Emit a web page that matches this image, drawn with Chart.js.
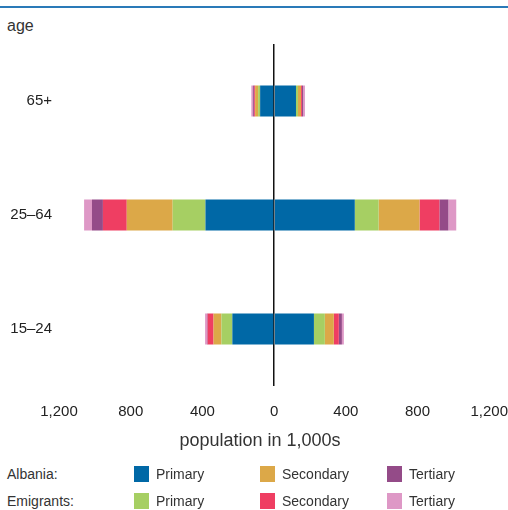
<!DOCTYPE html>
<html>
<head>
<meta charset="utf-8">
<script src="https://cdn.jsdelivr.net/npm/chart.js@4"></script>
<style>
  body { margin: 0; background: #fff; font-family: "Liberation Sans", Arial, sans-serif; color: #333; }
  #wrap { position: relative; width: 508px; height: 510px; overflow: hidden; }
  #topline { position: absolute; left: 0; top: 6px; width: 508px; height: 2px; background: #2a7ab8; }
  #agelbl { position: absolute; left: 7px; top: 17px; font-size: 16px; }
  #xtitle { position: absolute; left: 160px; width: 200px; top: 430px; text-align: center; font-size: 18px; color: #333; }
  #box { position: absolute; left: 0; top: 0; width: 508px; height: 460px; }
  .row { position: absolute; left: 7px; font-size: 14px; height: 18px; line-height: 18px; }
  .sw { position: absolute; width: 15px; height: 16px; }
  .lt { position: absolute; font-size: 14px; line-height: 18px; }
</style>
</head>
<body>
<div id="wrap">
  <div id="topline"></div>
  <div id="agelbl">age</div>
  <div id="box"><canvas id="c"></canvas></div>
  <div id="xtitle">population in 1,000s</div>
  <div id="legend"></div>
</div>
<script>
const ageGroups = ["65+", "25–64", "15–24"];

// left half of the pyramid (values in 1,000s)
const leftAlbPrimary   = [78, 383, 233];
const leftEmiPrimary   = [11, 183, 61];
const leftAlbSecondary = [17, 256, 44];
const leftEmiSecondary = [5, 133, 33];
const leftAlbTertiary  = [6, 61, 3];
const leftEmiTertiary  = [10, 44, 11];

// right half
const rightAlbPrimary   = [122, 450, 222];
const rightEmiPrimary   = [11, 133, 61];
const rightAlbSecondary = [17, 228, 50];
const rightEmiSecondary = [5, 111, 28];
const rightAlbTertiary  = [6, 50, 17];
const rightEmiTertiary  = [11, 44, 11];

const xTicks = [-1200, -800, -400, 0, 400, 800, 1200];

const colors = {
  albPrimary: "#0068a6",
  emiPrimary: "#a6cf63",
  albSecondary: "#dca848",
  emiSecondary: "#ef3e62",
  albTertiary: "#944b88",
  emiTertiary: "#de98c6"
};

const neg = arr => arr.map(v => -v);

const series = [
  ["Albania Primary", leftAlbPrimary, rightAlbPrimary, colors.albPrimary],
  ["Emigrants Primary", leftEmiPrimary, rightEmiPrimary, colors.emiPrimary],
  ["Albania Secondary", leftAlbSecondary, rightAlbSecondary, colors.albSecondary],
  ["Emigrants Secondary", leftEmiSecondary, rightEmiSecondary, colors.emiSecondary],
  ["Albania Tertiary", leftAlbTertiary, rightAlbTertiary, colors.albTertiary],
  ["Emigrants Tertiary", leftEmiTertiary, rightEmiTertiary, colors.emiTertiary]
];

const datasets = [];
series.forEach(s => {
  datasets.push({ label: s[0], data: neg(s[1]), backgroundColor: s[3], borderWidth: 0 });
});
series.forEach(s => {
  datasets.push({ label: s[0], data: s[2], backgroundColor: s[3], borderWidth: 0 });
});

const font = "'Liberation Sans', Arial, sans-serif";

new Chart(document.getElementById("c"), {
  type: "bar",
  data: { labels: ageGroups, datasets: datasets },
  options: {
    indexAxis: "y",
    responsive: true,
    maintainAspectRatio: false,
    animation: false,
    categoryPercentage: 1,
    barPercentage: 0.272,
    layout: { padding: { top: 44, right: -2, left: 0, bottom: 0 } },
    plugins: { legend: { display: false }, tooltip: { enabled: false } },
    scales: {
      x: {
        stacked: true,
        min: -1200,
        max: 1200,
        afterBuildTicks: axis => { axis.ticks = xTicks.map(v => ({ value: v })); },
        border: { display: false },
        grid: {
          drawTicks: true,
          tickLength: 17,
          tickColor: "transparent",
          color: c => (c.tick && c.tick.value === 0 ? "#111" : "transparent"),
          lineWidth: 1.5
        },
        ticks: {
          padding: 0,
          color: "#222",
          font: { family: font, size: 15 },
          callback: v => Math.abs(v).toLocaleString("en-US")
        },
        afterFit: scale => { scale.height = 74; }
      },
      y: {
        stacked: true,
        border: { display: false },
        grid: { display: false, drawTicks: false },
        ticks: {
          padding: 7,
          color: "#222",
          font: { family: font, size: 15 }
        },
        afterFit: scale => { scale.width = 59; }
      }
    }
  }
});

// legend below the chart
const legendRows = [
  { name: "Albania:", top: 465, items: [["Primary", colors.albPrimary], ["Secondary", colors.albSecondary], ["Tertiary", colors.albTertiary]] },
  { name: "Emigrants:", top: 492, items: [["Primary", colors.emiPrimary], ["Secondary", colors.emiSecondary], ["Tertiary", colors.emiTertiary]] }
];
const swX = [134, 260, 387];
const lg = document.getElementById("legend");
legendRows.forEach(r => {
  const n = document.createElement("div");
  n.className = "row";
  n.style.top = r.top + "px";
  n.textContent = r.name;
  lg.appendChild(n);
  r.items.forEach((it, i) => {
    const sw = document.createElement("div");
    sw.className = "sw";
    sw.style.left = swX[i] + "px";
    sw.style.top = (r.top + 1) + "px";
    sw.style.background = it[1];
    lg.appendChild(sw);
    const t = document.createElement("div");
    t.className = "lt";
    t.style.left = (swX[i] + 22) + "px";
    t.style.top = r.top + "px";
    t.textContent = it[0];
    lg.appendChild(t);
  });
});
</script>
</body>
</html>
